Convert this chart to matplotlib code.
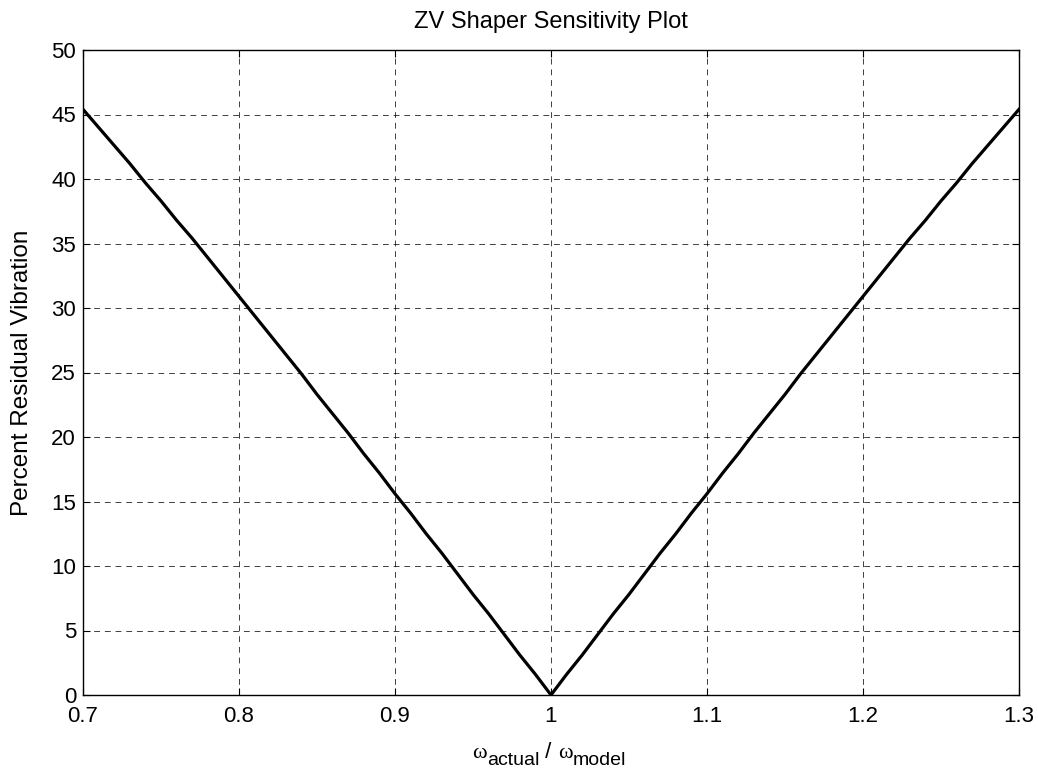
import matplotlib
matplotlib.use("Agg")
import matplotlib.pyplot as plt

# frequency ratio and percent residual vibration
ratio = [0.70, 0.71, 0.72, 0.73, 0.74, 0.75, 0.76, 0.77, 0.78, 0.79,
         0.80, 0.81, 0.82, 0.83, 0.84, 0.85, 0.86, 0.87, 0.88, 0.89,
         0.90, 0.91, 0.92, 0.93, 0.94, 0.95, 0.96, 0.97, 0.98, 0.99,
         1.00, 1.01, 1.02, 1.03, 1.04, 1.05, 1.06, 1.07, 1.08, 1.09,
         1.10, 1.11, 1.12, 1.13, 1.14, 1.15, 1.16, 1.17, 1.18, 1.19,
         1.20, 1.21, 1.22, 1.23, 1.24, 1.25, 1.26, 1.27, 1.28, 1.29, 1.30]
vib = [45.4, 44.0, 42.6, 41.2, 39.7, 38.3, 36.8, 35.4, 33.9, 32.4,
       30.9, 29.4, 27.9, 26.4, 24.9, 23.3, 21.8, 20.3, 18.7, 17.2,
       15.6, 14.1, 12.5, 11.0, 9.4, 7.8, 6.3, 4.7, 3.1, 1.6,
       0.0, 1.6, 3.1, 4.7, 6.3, 7.8, 9.4, 11.0, 12.5, 14.1,
       15.6, 17.2, 18.7, 20.3, 21.8, 23.3, 24.9, 26.4, 27.9, 29.4,
       30.9, 32.4, 33.9, 35.4, 36.8, 38.3, 39.7, 41.2, 42.6, 44.0, 45.4]
xticks = [0.7, 0.8, 0.9, 1.0, 1.1, 1.2, 1.3]
xticklabels = ['0.7', '0.8', '0.9', '1', '1.1', '1.2', '1.3']
yticks = list(range(0, 51, 5))

plt.rcParams['font.family'] = ['Liberation Sans', 'DejaVu Sans']

W, H = 1038, 769
fig = plt.figure(figsize=(W / 100, H / 100), dpi=100)
ax = fig.add_axes([83 / W, 1 - 695 / H, (1019 - 83) / W, (695 - 50) / H])

ax.plot(ratio, vib, color='black', linewidth=2.3)

ax.set_xlim(0.7, 1.3)
ax.set_ylim(0, 50)
ax.set_xticks(xticks)
ax.set_xticklabels(xticklabels)
ax.set_yticks(yticks)
ax.tick_params(direction='in', length=5, labelsize=16, top=True, right=True, width=0.8)
ax.tick_params(axis='x', pad=8)
ax.tick_params(axis='y', pad=5)
ax.grid(True, color='black', linestyle=(0, (6, 5)), linewidth=0.7, alpha=0.75)
for s in ax.spines.values():
    s.set_linewidth(1.0)

ax.set_title('ZV Shaper Sensitivity Plot', fontsize=17, pad=15.5)
ax.set_ylabel('Percent Residual Vibration', fontsize=17.5)
ax.yaxis.set_label_coords(-0.053, 0.5)

# x label: omega with subscripts, built piece by piece
pieces = [('ω', 'Liberation Serif', 16, 758),
          ('actual', 'Liberation Sans', 14, 765),
          (' / ', 'Liberation Sans', 16, 758),
          ('ω', 'Liberation Serif', 16, 758),
          ('model', 'Liberation Sans', 14, 765)]
renderer = fig.canvas.get_renderer()
texts = []
widths = []
for s, fam, size, base in pieces:
    t = fig.text(0, 1 - base / H, s, family=fam, fontsize=size, va='baseline', ha='left')
    texts.append(t)
    widths.append(t.get_window_extent(renderer).width)
x = 549 - sum(widths) / 2
for t, w in zip(texts, widths):
    t.set_x(x / W)
    x += w

fig.savefig('out.png', dpi=100)
